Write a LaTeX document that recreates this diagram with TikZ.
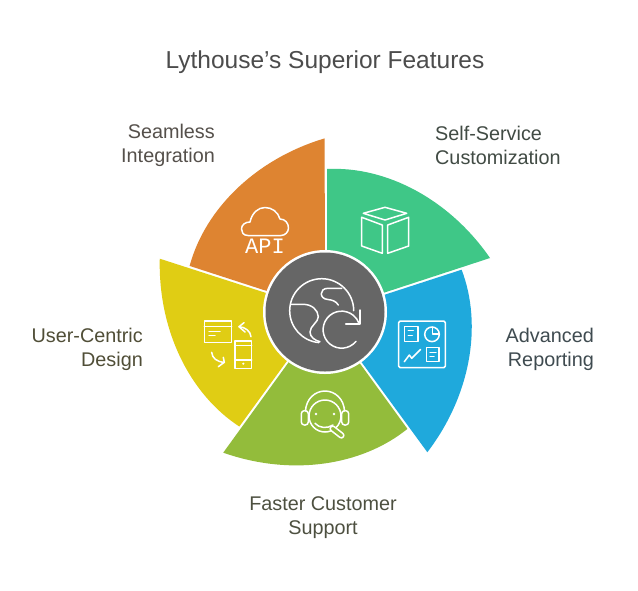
\documentclass[tikz,border=0pt]{standalone}
\usepackage{fontspec}
\setmainfont{Liberation Sans}
\newfontfamily\apifont{Liberation Mono}
\definecolor{cgreen}{HTML}{3FC787}
\definecolor{corange}{HTML}{DE8431}
\definecolor{cblue}{HTML}{1FA9DC}
\definecolor{colive}{HTML}{93BC3B}
\definecolor{cyellow}{HTML}{E0CD14}
\definecolor{cgray}{HTML}{666666}
\tikzset{
  ico/.style={draw=white,line width=1.5pt,line join=round,line cap=round},
  lab/.style={font=\fontsize{19.8}{24}\selectfont,inner sep=0pt,align=#1},
}
\begin{document}
\begin{tikzpicture}[x=1pt,y=-1pt]
\useasboundingbox (0,0) rectangle (638,590);
\fill[white] (0,0) rectangle (638,590);
\foreach \k/\c in {0/cgreen,1/cblue,2/colive,3/cyellow,4/corange}{
  \fill[\c,shift={(325,312)},rotate=-72*\k] (2,-40) -- (2,-143) .. controls (62,-146) and (125,-112) .. (165,-54) -- (0,0) -- cycle;
}
\fill[white] (325,312) circle[radius=62];
\fill[cgray] (325,312) circle[radius=59.5];
% text
\node[inner sep=0pt,text=black!70,font=\fontsize{24.5}{28}\selectfont] (title) at (325,62.5) {Lythouse's Superior Features};
\node[lab=right,anchor=east,text={rgb,255:red,85;green,80;blue,75}] (t1) at (215,145.5) {Seamless\\Integration};
\node[lab=left,anchor=west,text={rgb,255:red,65;green,75;blue,68}] (t2) at (435,145.5) {Self-Service\\Customization};
\node[lab=right,anchor=east,text={rgb,255:red,63;green,75;blue,80}] (t3) at (594,349.5) {Advanced\\Reporting};
\node[lab=center,anchor=center,text={rgb,255:red,77;green,80;blue,64}] (t4) at (323,517.5) {Faster Customer\\Support};
\node[lab=right,anchor=east,text={rgb,255:red,80;green,78;blue,55}] (t5) at (143,349.5) {User-Centric\\Design};
% cloud API
\draw[ico] (248,235.5) .. controls (243,235.5) and (241.5,232) .. (241.5,229) .. controls (241.5,225) and (245,222) .. (250,222) .. controls (252,213) and (258,207.5) .. (265,207.5) .. controls (272,207.5) and (278,212) .. (280,219) .. controls (285,219) and (288.5,223) .. (288.5,228) .. controls (288.5,232) and (285,235.5) .. (281,235.5) -- cycle;
\node[inner sep=0pt,text=white,font=\apifont\fontsize{22}{22}\selectfont] (api) at (265,246.5) {API};
% box
\draw[ico] (363.3,213.3) -- (385,207.3) -- (406.7,213.3) -- (385,220) -- cycle;
\draw[ico] (361.7,217.3) -- (382.3,225) -- (382.3,253.3) -- (361.7,246) -- cycle;
\draw[ico] (387.7,225) -- (408.7,217.3) -- (408.7,246) -- (387.7,253.3) -- cycle;
% report
\draw[ico,rounded corners=1.5pt] (398.7,321) rectangle (445.3,367.7);
\draw[ico] (404.3,326.7) rectangle (418,341.7);
\draw[ico] (408.3,330.7) -- (413.3,330.7) (408.3,335.3) -- (412.3,335.3);
\draw[ico] (432,334.3) circle[radius=7.3];
\draw[ico] (432.5,327) -- (432.5,334) -- (439.3,334);
\draw[ico] (404.3,361.7) -- (409.3,355) -- (411.7,358.3) -- (420.7,349.3);
\draw[ico] (426.7,347.3) rectangle (439,361.7);
\draw[ico] (430,352.7) -- (436,352.7) (430,356.7) -- (434,356.7);
% headset
\draw[ico] (325,416) circle[radius=16];
\draw[ico] (305.5,411) .. controls (306,399) and (315,391) .. (325,391) .. controls (335,391) and (344,399) .. (344.5,411);
\draw[ico,rounded corners=3pt] (301.3,410.7) rectangle (308.3,425);
\draw[ico,rounded corners=3pt] (341.7,410.7) rectangle (348.7,425);
\fill[white] (316,414) circle[radius=1.4] (334,414) circle[radius=1.4];
\draw[ico] (315,423.3) .. controls (319,428) and (327,429) .. (333,425);
\draw[ico,fill=colive,rounded corners=2.5pt,rotate around={-38:(337,432)}] (329,429.5) rectangle (345,434.5);
% card & phone
\draw[ico] (204.3,321) rectangle (231.7,342.3);
\draw[ico] (204.3,326.7) -- (231.7,326.7);
\draw[ico] (209,331.7) -- (220,331.7) (209,335.7) -- (215,335.7);
\draw[ico] (235,341) rectangle (251.7,368.3);
\draw[ico] (235,345.7) -- (251.7,345.7) (235,360) -- (251.7,360);
\fill[white] (243.3,363.7) circle[radius=1.2];
\draw[ico] (251,336.7) .. controls (250.5,331) and (245,327) .. (239,326.7);
\draw[ico] (244,322.7) -- (239,326.7) -- (245,332);
\draw[ico] (211.7,352.3) .. controls (212,358) and (217,362) .. (224.3,362.3);
\draw[ico] (223.3,357.3) -- (224.3,362.3) -- (218.3,366.7);
% globe
\draw[ico] (353.7,310.7) arc[start angle=0,end angle=-265,radius=32];
\draw[ico] (291,304.3) -- (303,304.3) .. controls (312,304.3) and (318,310) .. (318.3,316.7) .. controls (318.5,322) and (310,326) .. (310,332) .. controls (310,337) and (315,340.5) .. (320,341.7);
\draw[ico] (341.7,288.3) -- (328,288.3) .. controls (319,288.3) and (319,299) .. (328,299.5) .. controls (332,300) and (336,301) .. (338.3,305);
\draw[ico] (356,341.3) arc[start angle=39,end angle=340,radius=18.5];
\draw[ico] (345.7,324) -- (360,324) -- (360,310);
\end{tikzpicture}
\end{document}
